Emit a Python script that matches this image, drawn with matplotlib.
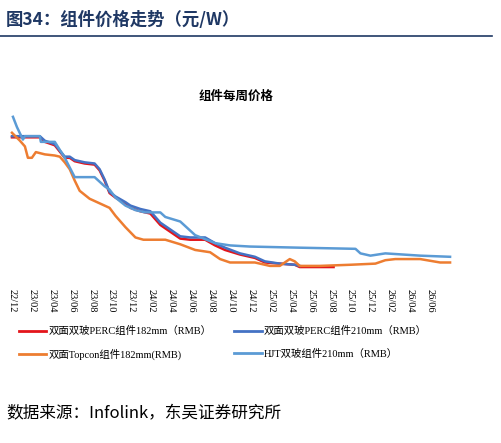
import matplotlib
matplotlib.use("Agg")
import matplotlib.pyplot as plt
import numpy as np

# months since 2022-12, price RMB/W
perc182_x = [0, 2.8, 3.3, 4.3, 5.3, 5.8, 6.3, 7.3, 8.3, 8.8, 9.3, 9.8, 10.4, 11.4, 11.9, 12.9, 13.9,
             14.9, 15.9, 16.9, 17.9, 19.4, 20.4, 21.4, 22.9, 24.4, 25.4, 26.9, 28.4, 28.9, 32.3]
perc182_y = [1.83, 1.83, 1.79, 1.76, 1.65, 1.65, 1.62, 1.60, 1.59, 1.54, 1.45, 1.34, 1.30, 1.25, 1.21,
             1.18, 1.16, 1.06, 1.00, 0.94, 0.93, 0.93, 0.88, 0.84, 0.80, 0.77, 0.73, 0.72, 0.71, 0.69, 0.69]
perc210_x = [0, 2.8, 3.3, 4.3, 5.3, 5.8, 6.3, 7.3, 8.3, 8.8, 9.3, 9.8, 10.4, 11.4, 11.9, 12.9, 13.9,
             14.9, 15.9, 16.9, 17.9, 19.4, 20.4, 21.4, 22.9, 24.4, 25.4, 26.9, 28.4, 28.9]
perc210_y = [1.84, 1.84, 1.80, 1.77, 1.66, 1.66, 1.63, 1.61, 1.60, 1.55, 1.46, 1.35, 1.31, 1.26, 1.23,
             1.20, 1.18, 1.08, 1.02, 0.96, 0.95, 0.95, 0.90, 0.86, 0.81, 0.78, 0.74, 0.72, 0.71, 0.70]
topcon_x = [0, 0.8, 1.3, 1.6, 2.0, 2.4, 3.3, 4.3, 4.8, 5.3, 5.8, 6.3, 6.8, 7.8, 8.8, 9.8, 10.4, 11.4,
            12.4, 13.2, 15.4, 16.9, 18.4, 19.9, 20.9, 21.9, 22.9, 24.4, 25.9, 26.9, 27.9, 28.4, 28.9,
            30.9, 34.0, 36.5, 37.5, 38.5, 41.0, 43.0, 44.0]
topcon_y = [1.87, 1.80, 1.75, 1.65, 1.65, 1.70, 1.68, 1.67, 1.66, 1.61, 1.55, 1.45, 1.36, 1.29, 1.25,
            1.21, 1.14, 1.04, 0.95, 0.93, 0.93, 0.89, 0.84, 0.82, 0.76, 0.73, 0.73, 0.73, 0.70, 0.70,
            0.76, 0.74, 0.70, 0.70, 0.71, 0.72, 0.75, 0.76, 0.76, 0.73, 0.73]
hjt_x = [0.1, 0.5, 1.1, 1.3, 1.6, 2.8, 2.9, 4.3, 5.3, 6.3, 8.3, 9.3, 9.8, 10.4, 11.4, 12.4, 13.4,
         14.9, 15.4, 16.9, 18.4, 20.4, 21.9, 23.9, 28.9, 34.5, 35.0, 36.0, 37.5, 41.0, 44.0]
hjt_y = [2.01, 1.92, 1.81, 1.84, 1.84, 1.84, 1.79, 1.79, 1.65, 1.48, 1.48, 1.40, 1.37, 1.30, 1.23,
         1.19, 1.17, 1.17, 1.13, 1.09, 0.97, 0.90, 0.88, 0.87, 0.86, 0.85, 0.81, 0.79, 0.81, 0.79, 0.78]

tick_pos = list(range(0, 43, 2))
tick_labels = ["22/12", "23/02", "23/04", "23/06", "23/08", "23/10", "23/12", "24/02", "24/04",
               "24/06", "24/08", "24/10", "24/12", "25/02", "25/04", "25/06", "25/08", "25/10",
               "25/12", "26/02", "26/04", "26/06"]

CJK = ["Noto Sans CJK SC", "DejaVu Sans"]
SERIF = ["Liberation Serif", "Noto Sans CJK SC"]

fig = plt.figure(figsize=(5.02, 4.43), dpi=100)
fig.text(0.012, 0.955, "图34：组件价格走势（元/W）", family=CJK, fontsize=12.5,
         fontweight="bold", color="#1f3864", va="center")
fig.add_artist(plt.Line2D([0.0, 0.98], [0.918, 0.918], color="#1f3864", lw=1.2))

ax = fig.add_axes([5 / 502, 1 - 275 / 443, 460 / 502, 165 / 443])
ax.plot(perc182_x, perc182_y, color="#e3151b", lw=1.8)
ax.plot(perc210_x, perc210_y, color="#4472c4", lw=1.8)
ax.plot(topcon_x, topcon_y, color="#ed7d31", lw=1.8)
ax.plot(hjt_x, hjt_y, color="#5b9bd5", lw=1.8)
ax.set_xlim(-0.7, 45.5)
ax.set_ylim(0.62, 2.07)
ax.set_yticks([])
ax.set_xticks(tick_pos)
ax.set_xticklabels(tick_labels, rotation=270, family=SERIF, fontsize=7.5)
ax.tick_params(axis="x", length=0, pad=10)
for s in ax.spines.values():
    s.set_visible(False)
fig.text(0.47, 0.775, "组件每周价格", family=CJK, fontsize=9, fontweight="bold", ha="center")

labels = ["双面双玻PERC组件182mm（RMB）", "双面双玻PERC组件210mm（RMB）",
          "双面Topcon组件182mm(RMB)", "HJT双玻组件210mm（RMB）"]
colors = ["#e3151b", "#4472c4", "#ed7d31", "#5b9bd5"]
handles = [plt.Line2D([], [], color=c, lw=2) for c in colors]
order = [0, 2, 1, 3]  # legend fills column by column
fig.legend([handles[i] for i in order], [labels[i] for i in order], loc="upper left",
           bbox_to_anchor=(0.02, 0.285), ncol=2, frameon=False,
           prop={"family": SERIF, "size": 7.5}, handlelength=2.6, columnspacing=2.2,
           labelspacing=1.2, handletextpad=0.2)

fig.text(0.012, 0.065, "数据来源：Infolink，东吴证券研究所", family=CJK, fontsize=12, va="center")
fig.savefig("out.png", dpi=100, facecolor="white")
